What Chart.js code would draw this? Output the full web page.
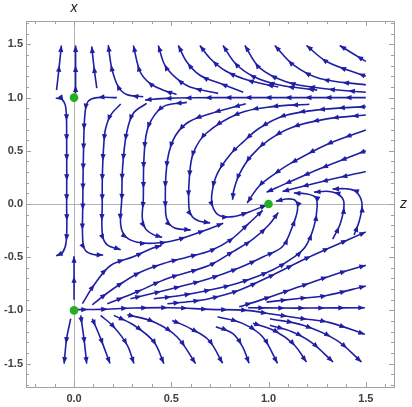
<!DOCTYPE html>
<html>
<head>
<meta charset="utf-8">
<script src="https://cdn.jsdelivr.net/npm/chart.js@4.4.1/dist/chart.umd.min.js"></script>
<style>
  html, body { margin: 0; padding: 0; background: #fff; }
  canvas { display: block; }
</style>
</head>
<body>
<canvas id="myChart" width="412" height="407"></canvas>
<script>
// fixed points (z, x)
const fixedZ = [0, 1, 0];
const fixedX = [1, 0, -1];

const zTicks = [0, 0.5, 1, 1.5];
const xTicks = [-1.5, -1, -0.5, 0, 0.5, 1, 1.5];

// streamlines, [z, x] pairs in flow direction
const upperLines = [
    [[-0.09, 1.07], [-0.077, 1.28], [-0.065, 1.49]],
    [[0.008, 1.04], [0.008, 1.26], [0.008, 1.49]],
    [[0.117, 1.09], [0.103, 1.28], [0.091, 1.48]],
    [[0.356, 1.008], [0.27, 1.03], [0.228, 1.10], [0.194, 1.275], [0.176, 1.493]],
    [[0.527, 1.03], [0.459, 1.07], [0.39, 1.134], [0.34, 1.243], [0.305, 1.49]],
    [[0.741, 1.04], [0.596, 1.10], [0.527, 1.18], [0.467, 1.305], [0.433, 1.49]],
    [[0.87, 1.05], [0.75, 1.134], [0.647, 1.21], [0.579, 1.337], [0.536, 1.49]],
    [[1.05, 1.1], [0.90, 1.16], [0.78, 1.25], [0.70, 1.368], [0.647, 1.49]],
    [[1.25, 1.07], [1.05, 1.12], [0.92, 1.2], [0.83, 1.32], [0.766, 1.49]],
    [[1.5, 1.05], [1.26, 1.09], [1.09, 1.15], [0.955, 1.28], [0.878, 1.49]],
    [[1.5, 1.12], [1.263, 1.18], [1.126, 1.31], [1.032, 1.49]],
    [[1.5, 1.2], [1.298, 1.34], [1.195, 1.49]],
    [[1.5, 1.34], [1.366, 1.49]],
    [[1.5, 1.0], [1.2, 1.0], [0.9, 1.0], [0.6, 0.998], [0.45, 0.99], [0.365, 0.978]]
];

const middleLines = [
    [[-0.094, 0.996], [-0.06, 0.98], [-0.042, 0.9], [-0.038, 0.6], [-0.038, 0.0], [-0.04, -0.35], [-0.06, -0.46], [-0.092, -0.487]],
    [[0.22, 1.0], [0.12, 1.0], [0.075, 0.97], [0.058, 0.88], [0.05, 0.6], [0.045, 0.0], [0.045, -0.35], [0.06, -0.44], [0.1, -0.475], [0.15, -0.48]],
    [[0.24, 0.94], [0.19, 0.84], [0.163, 0.715], [0.154, 0.59], [0.146, 0.3], [0.145, 0.0], [0.146, -0.29], [0.171, -0.384], [0.24, -0.43]],
    [[0.373, 0.946], [0.305, 0.853], [0.27, 0.665], [0.25, 0.352], [0.245, 0.04], [0.24, -0.197], [0.265, -0.306], [0.325, -0.36], [0.41, -0.369], [0.514, -0.344], [0.693, -0.234], [0.767, -0.18]],
    [[0.58, 0.955], [0.459, 0.915], [0.382, 0.727], [0.36, 0.446], [0.356, 0.04], [0.351, -0.135], [0.368, -0.234], [0.41, -0.29], [0.453, -0.313]],
    [[0.883, 0.942], [0.678, 0.837], [0.579, 0.759], [0.51, 0.603], [0.476, 0.352], [0.471, -0.088], [0.488, -0.182], [0.522, -0.229], [0.6, -0.244]],
    [[1.21, 0.937], [1.02, 0.915], [0.85, 0.853], [0.68, 0.665], [0.613, 0.478], [0.593, 0.25], [0.591, -0.04], [0.608, -0.119], [0.642, -0.159], [0.70, -0.178]],
    [[1.5, 0.915], [1.28, 0.89], [1.08, 0.83], [0.95, 0.71], [0.87, 0.584], [0.80, 0.459], [0.733, 0.272], [0.707, 0.068], [0.716, -0.041], [0.75, -0.11], [0.818, -0.119], [0.904, -0.072], [0.99, -0.01]],
    [[1.5, 0.837], [1.3, 0.80], [1.12, 0.72], [1.0, 0.6], [0.91, 0.45], [0.85, 0.28], [0.82, 0.12], [0.815, 0.04]],
    [[1.5, 0.696], [1.3, 0.56], [1.115, 0.384], [1.037, 0.29], [0.95, 0.165], [0.89, 0.01]],
    [[1.5, 0.5], [1.38, 0.415], [1.21, 0.29], [1.037, 0.15], [0.99, 0.11]],
    [[1.5, 0.306], [1.277, 0.212], [1.072, 0.118]]
];

const lowerLines = [
    [[0, -0.9], [0, -0.7], [0, -0.49]],
    [[-0.017, -1.078], [-0.038, -1.265], [-0.051, -1.5]],
    [[0.034, -1.047], [0.051, -1.265], [0.065, -1.5]],
    [[0.094, -1.078], [0.137, -1.265], [0.185, -1.5]],
    [[0.137, -1.047], [0.205, -1.156], [0.274, -1.328], [0.308, -1.5]],
    [[0.205, -1.047], [0.308, -1.14], [0.411, -1.297], [0.462, -1.5]],
    [[0.274, -1.04], [0.411, -1.11], [0.53, -1.25], [0.625, -1.5]],
    [[0.017, -0.993], [0.137, -0.99], [0.308, -0.978], [0.497, -0.975], [0.70, -0.99], [0.887, -1.0], [1.024, -1.037], [1.178, -1.078], [1.315, -1.115], [1.495, -1.225]],
    [[0.895, -0.975], [1.067, -0.978], [1.212, -0.978], [1.495, -0.975]],
    [[0.505, -1.094], [0.6, -1.172], [0.693, -1.281], [0.764, -1.497]],
    [[0.729, -1.153], [0.815, -1.216], [0.866, -1.34], [0.9, -1.497]],
    [[0.738, -1.06], [0.866, -1.122], [0.969, -1.247], [1.046, -1.497]],
    [[0.92, -1.12], [1.04, -1.2], [1.13, -1.32], [1.195, -1.485]],
    [[1.007, -1.14], [1.12, -1.2], [1.22, -1.3], [1.332, -1.485]],
    [[1.007, -1.078], [1.178, -1.14], [1.349, -1.28], [1.478, -1.485]],
    [[0.043, -0.937], [0.101, -0.766], [0.188, -0.578], [0.308, -0.494], [0.402, -0.416], [0.45, -0.39]],
    [[0.094, -0.947], [0.154, -0.86], [0.24, -0.75], [0.343, -0.64], [0.46, -0.56], [0.58, -0.5], [0.70, -0.44], [0.81, -0.33], [0.90, -0.18], [0.97, -0.06]],
    [[0.171, -0.937], [0.257, -0.875], [0.343, -0.81], [0.48, -0.7], [0.693, -0.578], [0.815, -0.45], [0.92, -0.33], [1.0, -0.2], [1.05, -0.08]],
    [[0.29, -0.89], [0.428, -0.83], [0.565, -0.766], [0.693, -0.703], [0.85, -0.6], [0.98, -0.49], [1.072, -0.40], [1.123, -0.21], [1.149, -0.053], [1.137, 0.034], [1.09, 0.047], [1.038, 0.025]],
    [[0.41, -0.89], [0.548, -0.86], [0.693, -0.81], [0.849, -0.74], [1.02, -0.62], [1.13, -0.5], [1.19, -0.4], [1.234, -0.21], [1.25, -0.022], [1.24, 0.065], [1.19, 0.097], [1.13, 0.103]],
    [[1.33, -0.33], [1.37, -0.178], [1.388, 0.009], [1.363, 0.087], [1.311, 0.118], [1.234, 0.112]],
    [[1.44, -0.29], [1.468, -0.15], [1.48, 0.01], [1.448, 0.118], [1.397, 0.143], [1.329, 0.141]],
    [[0.48, -0.937], [0.6, -0.916], [0.693, -0.89], [0.849, -0.81], [1.02, -0.669], [1.192, -0.513], [1.33, -0.40], [1.5, -0.262]],
    [[0.849, -0.966], [0.986, -0.887], [1.157, -0.778], [1.329, -0.669], [1.5, -0.575]],
    [[0.99, -0.922], [1.144, -0.89], [1.298, -0.86], [1.5, -0.77]]
];

const lineColor = '#1f1fa3';
const dotColor = '#22b022';
const frameColor = '#a0a0a0';

function toPoints(line) {
    return line.map(p => ({ x: p[0], y: p[1] }));
}

const datasets = [];
[upperLines, middleLines, lowerLines].forEach(group => {
    group.forEach(line => {
        datasets.push({
            data: toPoints(line),
            showLine: true,
            borderColor: lineColor,
            borderWidth: 1.6,
            pointRadius: 0,
            tension: 0.35,
            fill: false,
            arrows: true
        });
    });
});
datasets.push({
    data: fixedZ.map((z, i) => ({ x: z, y: fixedX[i] })),
    showLine: false,
    pointRadius: 4.3,
    backgroundColor: dotColor,
    borderWidth: 0,
    order: -1,
    clip: 10
});

// arrowheads along each streamline, measured back from the end
const arrowPlugin = {
    id: 'arrows',
    afterDatasetDraw(chart, args) {
        const ds = chart.data.datasets[args.index];
        if (!ds.arrows) return;
        const pts = args.meta.data;
        const path = [];
        for (let i = 0; i < pts.length - 1; i++) {
            const a = pts[i], b = pts[i + 1];
            const c1x = a.cp2x ?? a.x, c1y = a.cp2y ?? a.y;
            const c2x = b.cp1x ?? b.x, c2y = b.cp1y ?? b.y;
            for (let k = 0; k < 16; k++) {
                const t = k / 16, u = 1 - t;
                path.push([
                    u * u * u * a.x + 3 * u * u * t * c1x + 3 * u * t * t * c2x + t * t * t * b.x,
                    u * u * u * a.y + 3 * u * u * t * c1y + 3 * u * t * t * c2y + t * t * t * b.y
                ]);
            }
        }
        const last = pts[pts.length - 1];
        path.push([last.x, last.y]);

        const area = chart.chartArea;
        const ctx = chart.ctx;
        ctx.save();
        ctx.beginPath();
        ctx.rect(area.left, area.top, area.right - area.left, area.bottom - area.top);
        ctx.clip();
        ctx.fillStyle = lineColor;

        let total = 0;
        const lens = [];
        for (let i = 0; i < path.length - 1; i++) {
            const d = Math.hypot(path[i + 1][0] - path[i][0], path[i + 1][1] - path[i][1]);
            lens.push(d);
            total += d;
        }
        const spacing = 20;
        for (let s = total; s > 7; s -= spacing) {
            let acc = 0;
            for (let i = 0; i < lens.length; i++) {
                if (acc + lens[i] >= s || i === lens.length - 1) {
                    const t = lens[i] > 0 ? Math.min(1, (s - acc) / lens[i]) : 1;
                    const px = path[i][0] + (path[i + 1][0] - path[i][0]) * t;
                    const py = path[i][1] + (path[i + 1][1] - path[i][1]) * t;
                    const ang = Math.atan2(path[i + 1][1] - path[i][1], path[i + 1][0] - path[i][0]);
                    ctx.save();
                    ctx.translate(px, py);
                    ctx.rotate(ang);
                    ctx.beginPath();
                    ctx.moveTo(0, 0);
                    ctx.lineTo(-6.5, -2.6);
                    ctx.lineTo(-6.5, 2.6);
                    ctx.closePath();
                    ctx.fill();
                    ctx.restore();
                    break;
                }
                acc += lens[i];
            }
        }
        ctx.restore();
    }
};

// frame, zero lines, inward ticks and axis names
const framePlugin = {
    id: 'frame',
    beforeDatasetsDraw(chart) {
        const { ctx, chartArea: a, scales } = chart;
        const x0 = scales.x.getPixelForValue(0);
        const y0 = scales.y.getPixelForValue(0);
        ctx.save();
        ctx.strokeStyle = '#b4b4b4';
        ctx.lineWidth = 1;
        ctx.beginPath();
        ctx.moveTo(Math.round(x0) + 0.5, a.top);
        ctx.lineTo(Math.round(x0) + 0.5, a.bottom);
        ctx.moveTo(a.left, Math.round(y0) + 0.5);
        ctx.lineTo(a.right, Math.round(y0) + 0.5);
        ctx.stroke();
        ctx.restore();
    },
    afterDraw(chart) {
        const { ctx, chartArea: a, scales } = chart;
        ctx.save();
        ctx.strokeStyle = frameColor;
        ctx.lineWidth = 1;
        ctx.strokeRect(Math.round(a.left) + 0.5, Math.round(a.top) + 0.5,
            Math.round(a.right - a.left), Math.round(a.bottom - a.top));
        ctx.beginPath();
        for (let i = -2; i <= 16; i++) {
            const v = i / 10;
            if (v < scales.x.min || v > scales.x.max) continue;
            const len = i % 5 === 0 ? 5 : 3;
            const px = Math.round(scales.x.getPixelForValue(v)) + 0.5;
            ctx.moveTo(px, a.bottom); ctx.lineTo(px, a.bottom - len);
            ctx.moveTo(px, a.top); ctx.lineTo(px, a.top + len);
        }
        for (let i = -17; i <= 17; i++) {
            const v = i / 10;
            if (v < scales.y.min || v > scales.y.max) continue;
            const len = i % 5 === 0 ? 5 : 3;
            const py = Math.round(scales.y.getPixelForValue(v)) + 0.5;
            ctx.moveTo(a.left, py); ctx.lineTo(a.left + len, py);
            ctx.moveTo(a.right, py); ctx.lineTo(a.right - len, py);
        }
        ctx.stroke();

        ctx.fillStyle = '#222';
        ctx.font = 'italic 14px "Liberation Sans", Arial, sans-serif';
        ctx.textAlign = 'center';
        ctx.textBaseline = 'middle';
        ctx.fillText('x', scales.x.getPixelForValue(0), 8);
        ctx.textAlign = 'left';
        ctx.fillText('z', a.right + 6, scales.y.getPixelForValue(0));
        ctx.restore();
    }
};

const tickFont = { family: '"Liberation Sans", Arial, sans-serif', size: 11, weight: 'bold' };

new Chart(document.getElementById('myChart'), {
    type: 'scatter',
    data: { datasets: datasets },
    options: {
        responsive: false,
        animation: false,
        devicePixelRatio: 1,
        events: [],
        layout: { padding: { left: 0, top: 21, right: 18, bottom: 0 } },
        plugins: { legend: { display: false }, tooltip: { enabled: false } },
        scales: {
            x: {
                type: 'linear',
                min: -0.247,
                max: 1.645,
                grid: { display: false, drawTicks: false },
                border: { display: false },
                afterBuildTicks: s => { s.ticks = zTicks.map(v => ({ value: v })); },
                afterFit: s => { s.height = 20; },
                ticks: { padding: 5, color: '#404040', font: tickFont, callback: v => v.toFixed(1) }
            },
            y: {
                type: 'linear',
                min: -1.72,
                max: 1.72,
                grid: { display: false, drawTicks: false },
                border: { display: false },
                afterBuildTicks: s => { s.ticks = xTicks.map(v => ({ value: v })); },
                afterFit: s => { s.width = 26; },
                ticks: { padding: 3, color: '#404040', font: tickFont, callback: v => v.toFixed(1) }
            }
        }
    },
    plugins: [arrowPlugin, framePlugin]
});
</script>
</body>
</html>
